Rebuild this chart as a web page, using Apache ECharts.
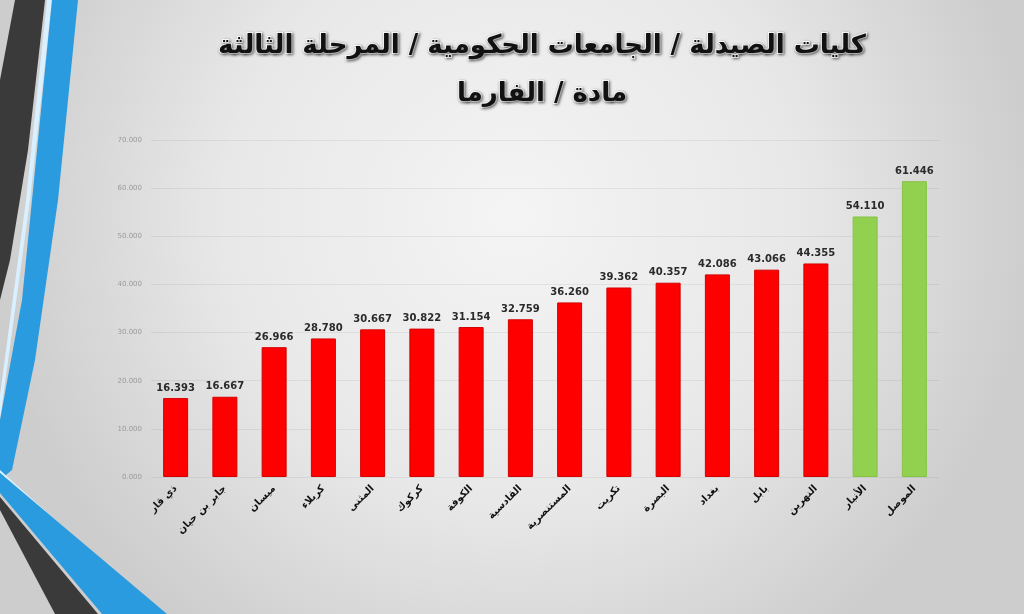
<!DOCTYPE html>
<html>
<head>
<meta charset="utf-8">
<script src="https://cdn.jsdelivr.net/npm/echarts@6/dist/echarts.min.js"></script>
<style>html,body{margin:0;padding:0;}#c{width:1024px;height:614px;}</style>
</head>
<body>
<div id="c"></div>
<script>
const titleText = 'كليات الصيدلة / الجامعات الحكومية / المرحلة الثالثة\nمادة / الفارما';
const categories = ['ذي قار','جابر بن حيان','ميسان','كربلاء','المثنى','كركوك','الكوفة','القادسية','المستنصرية','تكريت','البصرة','بغداد','بابل','النهرين','الأنبار','الموصل'];
const values = [16.393,16.667,26.966,28.780,30.667,30.822,31.154,32.759,36.260,39.362,40.357,42.086,43.066,44.355,54.110,61.446];
const highlighted = ['الأنبار','الموصل'];
const yTicks = [0,10,20,30,40,50,60,70];

const barData = values.map((v, i) => {
  const hi = highlighted.includes(categories[i]);
  return {
    value: v,
    itemStyle: {
      color: hi ? '#92d050' : '#ff0000',
      borderColor: hi ? '#84c444' : '#d40000',
      borderWidth: 1
    }
  };
});

const chart = echarts.init(document.getElementById('c'));
chart.setOption({
  backgroundColor: {
    type: 'radial', x: 0.5, y: 0.35, r: 0.85,
    colorStops: [{offset: 0, color: '#f4f4f4'}, {offset: 0.55, color: '#e8e8e8'}, {offset: 1, color: '#cdcdcd'}]
  },
  graphic: [
    {type: 'polygon', silent: true, shape: {points: [[15,0],[45,0],[28,150],[10,260],[0,300],[0,80]]}, style: {fill: '#3a3a3a'}},
    {type: 'polygon', silent: true, shape: {points: [[47,0],[52,0],[30,200],[0,420],[0,395],[26,200]]}, style: {fill: '#d8f0ff'}},
    {type: 'polygon', silent: true, shape: {points: [[52,0],[78,0],[58,200],[35,360],[12,470],[0,480],[0,420],[22,300],[34,180]]}, style: {fill: '#2b9be0'}},
    {type: 'polygon', silent: true, shape: {points: [[0,470],[0,473],[165,614],[160,614]]}, style: {fill: '#d8f0ff'}},
    {type: 'polygon', silent: true, shape: {points: [[0,473],[0,493],[102,614],[167,614]]}, style: {fill: '#2b9be0'}},
    {type: 'polygon', silent: true, shape: {points: [[0,497],[0,510],[55,614],[98,614]]}, style: {fill: '#3a3a3a'}}
  ],
  title: {
    text: titleText,
    left: 537, top: 17, textAlign: 'center',
    textStyle: {
      fontFamily: 'DejaVu Sans', fontSize: 26, fontWeight: 'bold', color: '#111',
      lineHeight: 48, textBorderColor: '#ffffff', textBorderWidth: 2,
      textShadowColor: 'rgba(0,0,0,0.5)', textShadowBlur: 3, textShadowOffsetX: 1, textShadowOffsetY: 1
    }
  },
  grid: {left: 151, right: 85, top: 140, bottom: 137, containLabel: false},
  xAxis: {
    type: 'category', data: categories,
    axisLine: {show: false}, axisTick: {show: false},
    axisLabel: {
      rotate: 45, interval: 0, margin: 10,
      fontFamily: 'DejaVu Sans', fontSize: 10, fontWeight: 'bold', color: '#111'
    }
  },
  yAxis: {
    type: 'value', min: 0, max: 70, interval: 10,
    axisLine: {show: false}, axisTick: {show: false},
    splitLine: {lineStyle: {color: 'rgba(0,0,0,0.06)', width: 1}},
    axisLabel: {
      margin: 9, fontFamily: 'DejaVu Sans', fontSize: 7, color: '#9a9a9a',
      formatter: v => yTicks.includes(v) ? v.toFixed(3) : ''
    }
  },
  series: [{
    type: 'bar', data: barData, barWidth: 25,
    label: {
      show: true, position: 'top', distance: 5,
      fontFamily: 'DejaVu Sans', fontSize: 10, fontWeight: 'bold', color: '#2a2a2a',
      formatter: p => p.value.toFixed(3)
    }
  }]
});
</script>
</body>
</html>
